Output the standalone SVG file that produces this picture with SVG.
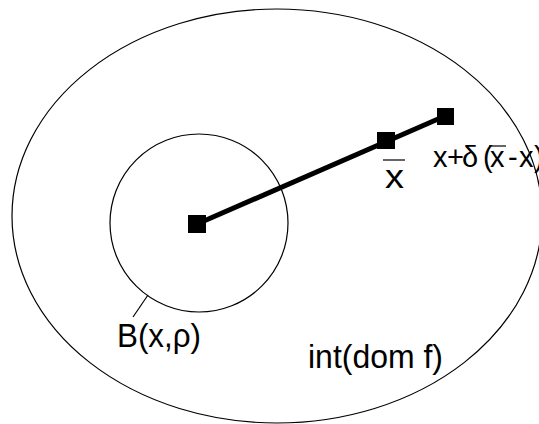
<svg xmlns="http://www.w3.org/2000/svg" width="539" height="424" viewBox="0 0 539 424">
<style>
.thin{fill:none;stroke:#000;stroke-width:1.2}
.t{font-family:"Liberation Sans",Arial,sans-serif;font-size:33px;fill:#000}
.s{font-size:29px}
.pt{fill:#000}
</style>
<rect width="539" height="424" fill="#fff"/>
<g id="domain">
<ellipse class="thin" cx="277" cy="216" rx="265" ry="207"/>
<text class="t" x="308" y="368" textLength="135" lengthAdjust="spacingAndGlyphs">int(dom f)</text>
</g>
<g id="ball">
<circle class="thin" cx="199" cy="223" r="89"/>
<line class="thin" x1="148" y1="295" x2="133" y2="317"/>
<text class="t" x="117" y="347" textLength="84" lengthAdjust="spacingAndGlyphs">B(x,ρ)</text>
</g>
<g id="connectors">
<line x1="197" y1="224" x2="445" y2="116" stroke="#000" stroke-width="5"/>
</g>
<g id="x">
<rect class="pt" x="188" y="215" width="18" height="18"/>
</g>
<g id="xbar">
<rect class="pt" x="377" y="132" width="18" height="17"/>
<text class="t" x="385" y="188" textLength="19" lengthAdjust="spacingAndGlyphs">x</text>
<line class="thin" x1="383" y1="160" x2="405" y2="160"/>
</g>
<g id="xdelta">
<rect class="pt" x="437" y="108" width="17" height="17"/>
<text class="t s" x="433 447 462 483 490 508 519 534" y="167">x+δ(x-x)</text>
<line class="thin" x1="489" y1="146" x2="506" y2="146"/>
</g>
</svg>
